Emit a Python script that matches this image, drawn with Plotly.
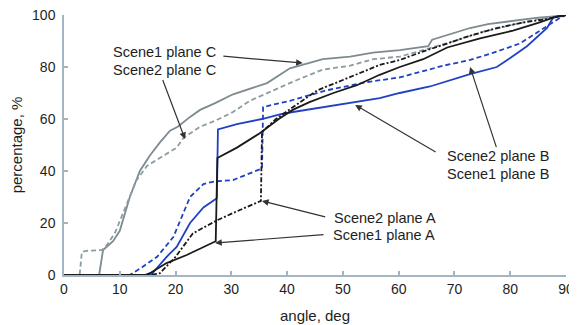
import plotly.graph_objects as go

# ---------------- data ----------------
s1c_x = [0, 6.3, 7.0, 8.8, 10.0, 11.8, 13.6, 15.4, 17.2, 19.0, 20.4, 22.6, 24.4, 27.0, 30.3, 33.0,
         36.4, 40.5, 42.3, 46.4, 51.3, 55.4, 60.2, 64.4, 65.3, 66.0, 69.0, 72.8, 76.0, 81.7, 85.0, 88.4, 90]
s1c_y = [0, 0, 9.6, 13.0, 17.0, 30.0, 40.0, 46.0, 51.0, 55.5, 57.0, 60.8, 63.5, 66.0, 69.5, 71.5,
         73.8, 79.5, 80.5, 83.0, 84.0, 85.5, 86.5, 87.5, 88.0, 90.5, 92.5, 95.0, 96.5, 98.0, 99.0, 99.6, 100]

s2c_x = [0, 2.8, 3.2, 4.0, 6.8, 7.5, 9.1, 11.3, 13.0, 14.9, 17.2, 20.2, 21.4, 24.4, 27.4, 30.3,
         33.3, 36.4, 40.5, 42.3, 46.4, 51.3, 55.4, 60.2, 64.4, 70, 75, 80, 85, 90]
s2c_y = [0, 0, 8.8, 9.3, 9.6, 11.0, 16.0, 27.7, 36.5, 42.0, 45.0, 49.0, 52.7, 57.0, 59.6, 62.7,
         67.0, 70.0, 74.0, 75.5, 79.0, 80.5, 83.0, 84.0, 86.5, 90.0, 93.5, 96.0, 98.5, 100]

s1a_x = [0, 14.5, 15.4, 18.4, 22.0, 26.7, 27.2, 27.5, 31.0, 35.1, 38.5, 41.0, 44.0, 48.3, 52.5,
         56.6, 60.2, 64.4, 68.7, 74.6, 80.5, 85.0, 87.7, 90]
s1a_y = [0, 0, 0.7, 4.6, 7.7, 12.7, 13.0, 45.0, 49.0, 54.5, 60.0, 63.5, 66.5, 70.0, 73.0,
         77.0, 80.0, 83.0, 87.5, 91.0, 94.0, 97.0, 99.0, 100]

s2a_x = [0, 15.5, 17.2, 20.0, 23.1, 27.4, 31.0, 34.8, 35.3, 35.5, 38.0, 41.0, 45.4, 50.0, 56.6,
         60.2, 64.4, 68.7, 72.0, 77.6, 82.0, 86.6, 90]
s2a_y = [0, 0, 0.7, 7.0, 16.0, 21.0, 24.5, 28.0, 28.5, 55.0, 60.0, 64.5, 71.0, 75.0, 80.8,
         82.7, 86.0, 89.0, 91.5, 95.0, 97.0, 98.5, 100]

s2b_x = [0, 11.8, 14.0, 16.7, 19.6, 21.0, 22.6, 25.0, 27.0, 30.3, 34.6, 35.5, 35.7, 37.5, 40.5,
         47.0, 54.3, 60.2, 64.4, 68.0, 72.8, 77.0, 81.7, 83.5, 86.6, 89.0, 90]
s2b_y = [0, 0, 3.0, 7.0, 14.6, 22.0, 30.0, 35.0, 36.0, 36.5, 40.4, 41.0, 64.6, 65.5, 67.0,
         71.0, 74.2, 76.0, 78.5, 80.5, 82.7, 85.5, 89.0, 91.5, 95.5, 99.0, 100]

s1b_x = [0, 15.5, 16.0, 18.4, 20.2, 22.6, 25.0, 26.8, 27.4, 27.6, 31.0, 35.5, 38.7, 40.5, 46.4,
         51.8, 56.6, 60.2, 65.6, 72.8, 77.6, 80.0, 83.0, 86.6, 87.7, 89.0, 90]
s1b_y = [0, 0, 1.0, 7.0, 10.8, 20.0, 26.0, 28.8, 29.5, 56.0, 58.0, 60.0, 61.8, 62.5, 64.5,
         66.3, 68.0, 70.0, 72.5, 77.3, 80.0, 83.5, 88.0, 95.0, 99.0, 100, 100]

x_ticks = [0, 10, 20, 30, 40, 50, 60, 70, 80, 90]
y_ticks = [0, 20, 40, 60, 80, 100]

# label text, label position, arrow tail, arrow head (data units)
labels = ["Scene1 plane C", "Scene2 plane C", "Scene2 plane B",
          "Scene1 plane B", "Scene2 plane A", "Scene1 plane A"]
label_x = [18.0, 18.0, 77.8, 77.8, 57.6, 57.4]
label_y = [85.6, 79.0, 45.6, 38.9, 21.9, 15.3]
arrow_tail_x = [28.3, 17.6, 77.6, 66.9, 47.1, 46.8]
arrow_tail_y = [84.2, 75.6, 48.6, 47.0, 22.2, 15.6]
arrow_head_x = [42.8, 21.7, 72.8, 52.2, 35.5, 27.1]
arrow_head_y = [81.5, 52.3, 80.0, 65.4, 28.5, 12.3]

GRAY = "#7d8b90"
GRAY2 = "#8c9ca2"
BLUE = "#2141c4"
BLACK = "#1a1a1a"
AXIS = "#a3b5c3"

fig = go.Figure()
traces = [
    (s1c_x, s1c_y, GRAY, "solid", "Scene1 plane C"),
    (s2c_x, s2c_y, GRAY2, "5px,3px", "Scene2 plane C"),
    (s1b_x, s1b_y, BLUE, "solid", "Scene1 plane B"),
    (s2b_x, s2b_y, BLUE, "5px,3px", "Scene2 plane B"),
    (s1a_x, s1a_y, BLACK, "solid", "Scene1 plane A"),
    (s2a_x, s2a_y, BLACK, "5px,2px,2px,2px", "Scene2 plane A"),
]
for xs, ys, c, d, n in traces:
    fig.add_trace(go.Scatter(x=xs, y=ys, mode="lines", name=n,
                             line=dict(color=c, width=1.8, dash=d)))

ann = []
for t, lx, ly in zip(labels, label_x, label_y):
    ann.append(dict(x=lx, y=ly, xref="x", yref="y", text=t, showarrow=False,
                    font=dict(size=14.5, color="#1e1e1e"), xanchor="center", yanchor="middle"))
for tx, ty, hx, hy in zip(arrow_tail_x, arrow_tail_y, arrow_head_x, arrow_head_y):
    ann.append(dict(x=hx, y=hy, ax=tx, ay=ty, xref="x", yref="y", axref="x", ayref="y",
                    text="", showarrow=True, arrowhead=2, arrowsize=1.1, arrowwidth=1.2,
                    arrowcolor="#333333", standoff=0, startstandoff=0))

# the page body adds an 8 px offset; figure size and margins compensate for it
fig.update_layout(
    width=569, height=317,
    margin=dict(l=56, r=11, t=7, b=50),
    paper_bgcolor="white", plot_bgcolor="white",
    showlegend=False,
    font=dict(family="Liberation Sans, Arial, sans-serif", size=14, color="#1e1e1e"),
    annotations=ann,
    xaxis=dict(range=[0, 90], tickvals=x_ticks, ticks="inside", ticklen=4, tickcolor=AXIS,
               tickwidth=1.5, showline=True, linecolor=AXIS, linewidth=1.5, showgrid=False,
               zeroline=False, tickfont=dict(size=14), ticklabelstandoff=0, automargin=False,
               ticklabeloverflow="allow",
               title=dict(text="angle, deg", font=dict(size=15), standoff=15)),
    yaxis=dict(range=[0, 100], tickvals=y_ticks, ticks="inside", ticklen=4, tickcolor=AXIS,
               tickwidth=1.5, showline=True, linecolor=AXIS, linewidth=1.5, showgrid=False,
               zeroline=False, tickfont=dict(size=14), ticklabelstandoff=4, automargin=False,
               ticklabeloverflow="allow",
               title=dict(text="percentage, %", font=dict(size=15), standoff=8)),
)

fig.write_html("out.html")
